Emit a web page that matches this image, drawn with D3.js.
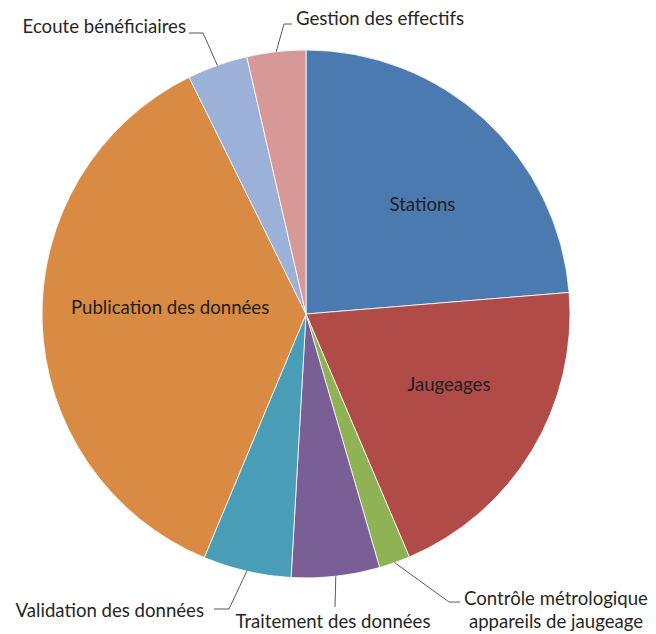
<!DOCTYPE html>
<html lang="fr">

<head>
    <meta charset="UTF-8">
    <title>Répartition des activités</title>
    <script src="https://cdn.jsdelivr.net/npm/d3@7"></script>
    <style>
        body { margin: 0; background: #fff; }
        text { font-family: Lato, "Open Sans", sans-serif; }
    </style>
</head>

<body>
</body>
<script>
    // slices, clockwise from 12 o'clock (in %)
    const labels = ["Stations", "Jaugeages", "Contrôle métrologique\nappareils de jaugeage",
        "Traitement des données", "Validation des données", "Publication des données",
        "Ecoute bénéficiaires", "Gestion des effectifs"];
    const values = [23.7, 19.9, 1.9, 5.4, 5.4, 36.4, 3.7, 3.6];
    const colors = ["#4a7ab0", "#b04b48", "#8fb255", "#7a5f97", "#4a9db6", "#d98a43", "#9bb1d8", "#d69997"];
    const inside = [true, true, false, false, false, true, false, false];

    const width = 656, height = 634;
    const cx = 306, cy = 314, R = 264;
    const fs = 18.6;

    const svg = d3.select("body").append("svg")
        .attr("width", width)
        .attr("height", height);

    const g = svg.append("g").attr("transform", `translate(${cx},${cy})`);

    const pie = d3.pie().sort(null).value(d => d).startAngle(0).endAngle(2 * Math.PI);
    const arc = d3.arc().innerRadius(0).outerRadius(R);
    const arcs = pie(values);

    g.selectAll("path.slice")
        .data(arcs)
        .join("path")
        .attr("class", "slice")
        .attr("d", arc)
        .attr("fill", (d, i) => colors[i])
        .attr("stroke", "#fff")
        .attr("stroke-width", 0.8);

    // point on the rim at the middle of a slice
    function rim(d, r) {
        const a = (d.startAngle + d.endAngle) / 2;
        return [r * Math.sin(a), -r * Math.cos(a)];
    }

    // label placement for the inside ones (radius, small nudge)
    const insidePos = {
        0: { r: 160, dx: 8, dy: 8 },
        1: { r: 160, dx: 6, dy: -13 },
        5: { r: 136, dx: 0, dy: -11 }
    };
    arcs.forEach((d, i) => {
        if (!inside[i]) return;
        const p = rim(d, insidePos[i].r);
        g.append("text")
            .attr("x", p[0] + insidePos[i].dx)
            .attr("y", p[1] + insidePos[i].dy)
            .attr("text-anchor", "middle")
            .attr("dominant-baseline", "central")
            .attr("font-size", fs)
            .attr("fill", "#1e1e1e")
            .text(labels[i]);
    });

    // leader lines + outside labels (page coords)
    const outside = {
        2: { pts: [[449, 602], [460, 602]], x: 556, y: 605, anchor: "middle" },
        3: { pts: [[335, 607]], x: 333, y: 628, anchor: "middle" },
        4: { pts: [[229, 609], [214, 609]], x: 204, y: 617, anchor: "end" },
        6: { pts: [[203, 33], [189, 33]], x: 186, y: 33, anchor: "end" },
        7: { pts: [[284, 24], [292, 24]], x: 296, y: 25, anchor: "start" }
    };
    const line = d3.line();
    arcs.forEach((d, i) => {
        if (inside[i]) return;
        const o = outside[i];
        const start = rim(d, R).map((v, k) => v + (k ? cy : cx));
        svg.append("path")
            .attr("d", line([start, ...o.pts]))
            .attr("fill", "none")
            .attr("stroke", "#595959")
            .attr("stroke-width", 1);
        const t = svg.append("text")
            .attr("x", o.x)
            .attr("y", o.y)
            .attr("text-anchor", o.anchor)
            .attr("font-size", fs)
            .attr("fill", "#262626");
        labels[i].split("\n").forEach((s, k) => {
            t.append("tspan").attr("x", o.x).attr("dy", k ? 23 : 0).text(s);
        });
    });
</script>

</html>
